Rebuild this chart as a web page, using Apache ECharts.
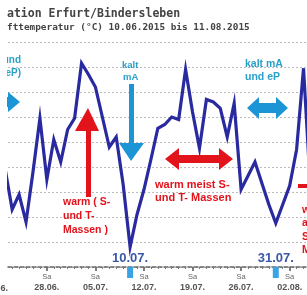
<!DOCTYPE html>
<html><head><meta charset="utf-8">
<script src="https://cdn.jsdelivr.net/npm/echarts@6/dist/echarts.min.js"></script>
<style>html,body{margin:0;padding:0;background:#fff}#c{width:307px;height:295px}</style>
</head><body><div id="c"></div>
<script>
// daily dates (22.06.2015 .. 05.08.2015)
const dates = ['22.06.','23.06.','24.06.','25.06.','26.06.','27.06.','28.06.','29.06.','30.06.',
  '01.07.','02.07.','03.07.','04.07.','05.07.','06.07.','07.07.','08.07.','09.07.','10.07.','11.07.',
  '12.07.','13.07.','14.07.','15.07.','16.07.','17.07.','18.07.','19.07.','20.07.','21.07.','22.07.',
  '23.07.','24.07.','25.07.','26.07.','27.07.','28.07.','29.07.','30.07.','31.07.','01.08.','02.08.',
  '03.08.','04.08.','05.08.'];
// air temperature (°C)
const temps = [17.8,14.6,15.8,13.6,17.6,21.9,17.0,20.2,18.4,21.0,21.9,26.3,25.4,24.4,22.0,19.6,20.4,
  16.6,11.6,14.2,16.2,18.6,21.1,21.4,22.0,21.8,25.8,22.4,19.5,23.4,23.2,22.7,20.4,23.1,16.2,17.3,18.4,
  16.7,15.0,13.5,15.0,16.5,19.4,25.9,16.2];
const tickDates = ['28.06.','05.07.','12.07.','19.07.','26.07.','02.08.'];
const tickDays = ['Sa','Sa','Sa','Sa','Sa','Sa'];
const markedDates = ['10.07.','31.07.'];
const yTicks = [10,12,14,16,18,20,22,24,26,28];

const OFFSET = dates.indexOf('28.06.');
const idx = d => dates.indexOf(d) - OFFSET;
const seriesData = temps.map((v,i)=>[i-OFFSET, v]);
const tickVals = tickDates.map(idx);
const dailyVals = dates.map((d,i)=>i-OFFSET);

const chart = echarts.init(document.getElementById('c'));
const RED = '#e3131b', CYAN = '#1b95d6', CYANT = '#2aa0c8';
function dbl(x1,x2,cy,hl,hh,sh){
  return [[x1,cy],[x1+hl,cy-hh],[x1+hl,cy-sh],[x2-hl,cy-sh],[x2-hl,cy-hh],[x2,cy],
          [x2-hl,cy+hh],[x2-hl,cy+sh],[x1+hl,cy+sh],[x1+hl,cy+hh]];
}
const txt = (x,y,t,c,sz,extra)=>({type:'text',x:x,y:y,z:50,style:Object.assign({text:t,fill:c,
  font:'bold '+sz+'px "Liberation Sans", Arial, sans-serif',textVerticalAlign:'middle'},extra||{})});

chart.setOption({
  animation:false,
  grid:{left:8,right:0,top:42,bottom:28},
  xAxis:[{
    type:'value',min:-5.6,max:37.5,
    axisLine:{show:true,lineStyle:{color:'#666',width:1.5,type:[4,2]}},
    axisTick:{show:true,customValues:tickVals,length:4,lineStyle:{color:'#555',width:1.5}},
    axisLabel:{show:true,customValues:tickVals,margin:5,color:'#555',
      formatter:v=>{const i=tickVals.indexOf(v);return i<0?'':'{a|'+tickDays[i]+'}\n{b|'+tickDates[i]+'}';},
      rich:{a:{fontSize:7.5,lineHeight:10,color:'#666',fontFamily:'Liberation Sans'},
            b:{fontSize:9,lineHeight:11,color:'#555',fontWeight:'bold',fontFamily:'Liberation Sans'}}},
    splitLine:{show:false}
  },{
    type:'value',min:-5.6,max:37.5,position:'bottom',
    axisLine:{show:false},
    axisTick:{show:true,customValues:dailyVals,length:2,lineStyle:{color:'#777'}},
    axisLabel:{show:false},splitLine:{show:false}
  }],
  yAxis:{type:'value',min:yTicks[0],max:yTicks[yTicks.length-1],interval:2,
    axisLine:{show:false},axisTick:{show:false},axisLabel:{show:false},
    splitLine:{show:true,lineStyle:{color:'#bbb',width:1,type:[2,2]}}},
  series:[{type:'line',data:seriesData,symbol:'none',clip:true,
    lineStyle:{color:'#2a2aa0',width:3.2,join:'miter'},z:10}]
});

const elements = [
  txt(7,14,'ation Erfurt/Bindersleben','#444',11.5,{font:'bold 11.5px "DejaVu Sans Mono", monospace'}),
  txt(7,28,'fttemperatur (°C) 10.06.2015 bis 11.08.2015','#444',9.4,{font:'bold 9.4px "DejaVu Sans Mono", monospace'}),
  // left cut arrow & text
  {type:'polygon',z:40,shape:{points:dbl(-30,20,102,12,10,5)},style:{fill:CYAN}},
  txt(21,60,'und',CYANT,10,{textAlign:'right'}),
  txt(21,73,'eP)',CYANT,10,{textAlign:'right'}),
  // white left margin of the cropped picture
  {type:'rect',z:60,shape:{x:0,y:36,width:7,height:230},style:{fill:'#fff'}},
  // red up arrow
  {type:'rect',z:40,shape:{x:86,y:128,width:5,height:69},style:{fill:RED}},
  {type:'polygon',z:40,shape:{points:[[75,131],[99,131],[88,108]]},style:{fill:RED}},
  txt(63,202,'warm ( S-',RED,10.5),
  txt(63,216,'und T-',RED,10.5),
  txt(63,230,'Massen )',RED,10.5),
  // blue down arrow
  {type:'rect',z:40,shape:{x:129,y:84,width:5,height:62},style:{fill:CYAN}},
  {type:'polygon',z:40,shape:{points:[[119,143],[144,143],[131,161]]},style:{fill:CYAN}},
  txt(122,65,'kalt',CYANT,9.5),
  txt(123,77,'mA',CYANT,9.5),
  // red double arrow
  {type:'polygon',z:40,shape:{points:dbl(165,233,159,14,11,4)},style:{fill:RED}},
  txt(155,185,'warm meist S-',RED,11),
  txt(155,198,'und T- Massen',RED,11),
  // cyan double arrow
  {type:'polygon',z:40,shape:{points:dbl(247,288,108,12,11,5)},style:{fill:CYAN}},
  txt(245,64,'kalt mA',CYANT,10.5),
  txt(245,77,'und eP',CYANT,10.5),
  // right cut red annotation
  {type:'rect',z:40,shape:{x:298,y:184,width:12,height:4},style:{fill:RED}},
  txt(302,210,'warm',RED,10.5),
  txt(302,223,'an-',RED,10.5),
  txt(302,237,'S-',RED,10.5),
  txt(302,250,'Ma',RED,10.5),
  // left cut tick label
  txt(8,289,'21.06.','#555',9,{textAlign:'right'})
];
// date markers placed via axis conversion
markedDates.forEach(d=>{
  const p = chart.convertToPixel({xAxisIndex:0,yAxisIndex:0},[idx(d),10]);
  elements.push({type:'rect',z:45,shape:{x:p[0]-3,y:p[1],width:6,height:11},style:{fill:'#3aa3e6'}});
  elements.push({type:'text',z:45,x:p[0],y:p[1]-9,style:{text:d,fill:'#3b58a8',
    font:'bold 13px "Liberation Sans", Arial, sans-serif',textAlign:'center',textVerticalAlign:'middle'}});
});
chart.setOption({graphic:elements});
</script></body></html>
